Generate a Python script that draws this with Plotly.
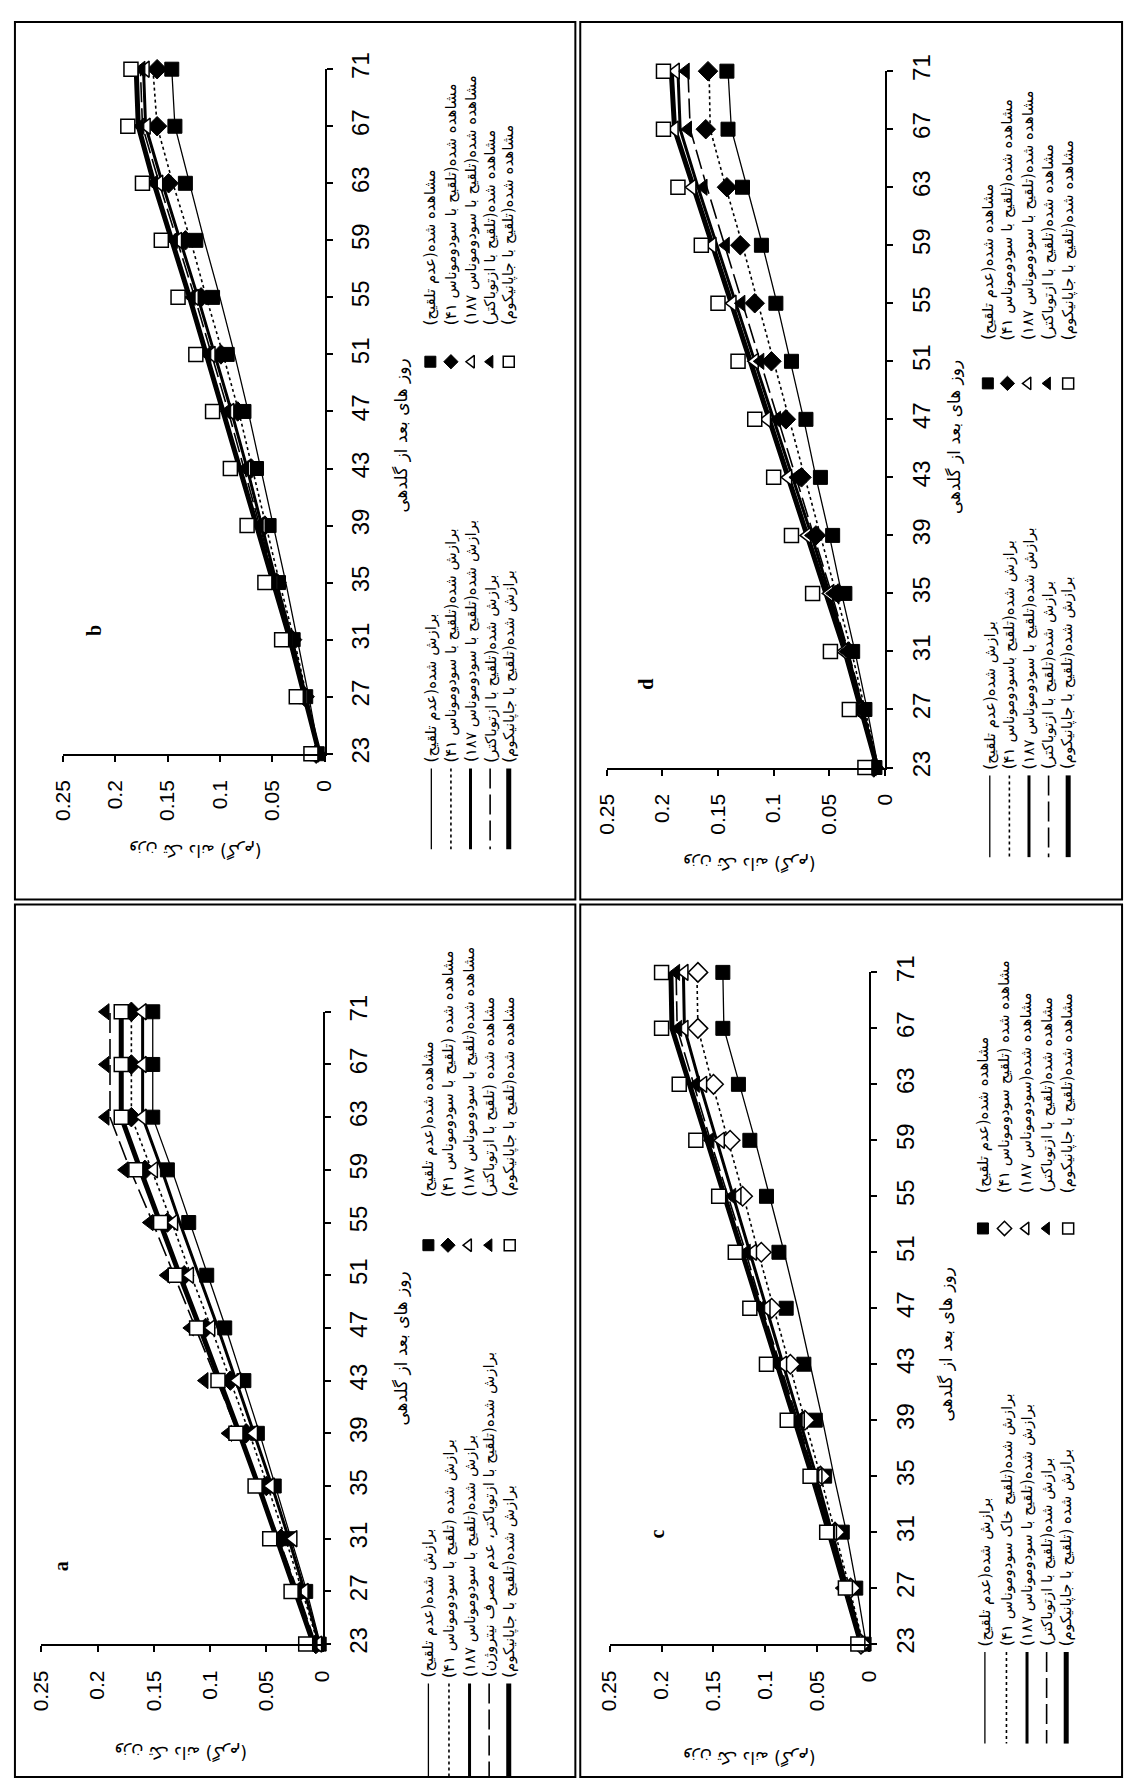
import plotly.graph_objects as go

W, H = 1136, 1791

days = [23, 27, 31, 35, 39, 43, 47, 51, 55, 59, 63, 67, 71]
value_ticks = [0, 0.05, 0.1, 0.15, 0.2, 0.25]
value_tick_labels = ["0", "0.05", "0.1", "0.15", "0.2", "0.25"]

x_title = "روز های بعد از گلدهی"
y_title = "وزن تک دانه (گرم)"

# ---------------- panel a ----------------
a_obs_none = [0.003, 0.015, 0.030, 0.043, 0.058, 0.070, 0.087, 0.103, 0.119, 0.138, 0.151, 0.151, 0.151]
a_obs_ps41 = [0.006, 0.020, 0.037, 0.050, 0.068, 0.082, 0.104, 0.123, 0.138, 0.158, 0.170, 0.170, 0.170]
a_obs_ps187 = [0.004, 0.016, 0.026, 0.046, 0.061, 0.076, 0.099, 0.118, 0.132, 0.150, 0.160, 0.160, 0.160]
a_obs_azoto = [0.008, 0.022, 0.040, 0.055, 0.084, 0.105, 0.118, 0.139, 0.154, 0.176, 0.193, 0.193, 0.193]
a_obs_jap = [0.015, 0.028, 0.047, 0.060, 0.077, 0.093, 0.112, 0.131, 0.144, 0.166, 0.179, 0.179, 0.179]
a_fit_none = [0.002, 0.014, 0.028, 0.042, 0.056, 0.071, 0.086, 0.102, 0.118, 0.134, 0.151, 0.151, 0.151]
a_fit_ps41 = [0.004, 0.018, 0.033, 0.049, 0.065, 0.082, 0.099, 0.117, 0.134, 0.152, 0.170, 0.170, 0.170]
a_fit_ps187 = [0.003, 0.016, 0.030, 0.045, 0.061, 0.077, 0.093, 0.110, 0.127, 0.143, 0.160, 0.160, 0.160]
a_fit_azoto = [0.006, 0.022, 0.039, 0.057, 0.075, 0.094, 0.113, 0.132, 0.151, 0.171, 0.189, 0.189, 0.189]
a_fit_jap = [0.008, 0.024, 0.040, 0.057, 0.074, 0.091, 0.109, 0.127, 0.145, 0.162, 0.179, 0.179, 0.179]
a_obs_labels = ["مشاهده شده(عدم تلقیح)", "مشاهده شده (تلقیح با سودوموناس ۴۱)",
                "مشاهده شده(تلقیح با سودوموناس ۱۸۷)", "مشاهده شده (تلقیح با ازتوباکتر)",
                "مشاهده شده(تلقیح با جاپانیکوم)"]
a_fit_labels = ["برازش شده(عدم تلقیح)", "برازش شده (تلقیح با سودوموناس ۴۱)",
                "برازش شده(تلقیح با سودوموناس ۱۸۷)", "برازش شده(تلقیح با ازتوباکتر، عدم مصرف نیتروژن)",
                "برازش شده(تلقیح با جاپانیکوم)"]

# ---------------- panel b ----------------
b_obs_none = [0.007, 0.018, 0.030, 0.044, 0.053, 0.065, 0.077, 0.093, 0.107, 0.123, 0.133, 0.143, 0.146]
b_obs_ps41 = [0.008, 0.019, 0.031, 0.046, 0.057, 0.070, 0.083, 0.099, 0.118, 0.133, 0.149, 0.160, 0.160]
b_obs_ps187 = [0.009, 0.020, 0.033, 0.048, 0.060, 0.074, 0.090, 0.108, 0.124, 0.140, 0.158, 0.170, 0.171]
b_obs_azoto = [0.009, 0.021, 0.034, 0.049, 0.062, 0.076, 0.093, 0.112, 0.127, 0.144, 0.163, 0.176, 0.175]
b_obs_jap = [0.013, 0.027, 0.041, 0.057, 0.074, 0.090, 0.107, 0.123, 0.140, 0.156, 0.174, 0.188, 0.185]
b_fit_none = [0.005, 0.015, 0.026, 0.037, 0.049, 0.061, 0.073, 0.086, 0.100, 0.115, 0.129, 0.143, 0.146]
b_fit_ps41 = [0.005, 0.017, 0.029, 0.043, 0.056, 0.069, 0.082, 0.097, 0.113, 0.128, 0.145, 0.160, 0.164]
b_fit_ps187 = [0.005, 0.018, 0.031, 0.046, 0.060, 0.074, 0.089, 0.105, 0.121, 0.138, 0.155, 0.171, 0.173]
b_fit_azoto = [0.005, 0.018, 0.032, 0.047, 0.062, 0.077, 0.092, 0.108, 0.124, 0.141, 0.158, 0.174, 0.176]
b_fit_jap = [0.005, 0.019, 0.033, 0.049, 0.065, 0.080, 0.096, 0.112, 0.129, 0.146, 0.163, 0.178, 0.180]
b_obs_labels = ["مشاهده شده(عدم تلقیح)", "مشاهده شده(تلقیح با سودوموناس ۴۱)",
                "مشاهده شده(تلقیح با سودوموناس ۱۸۷)", "مشاهده شده(تلقیح با ازتوباکتر)",
                "مشاهده شده(تلقیح با جاپانیکوم)"]
b_fit_labels = ["برازش شده(عدم تلقیح)", "برازش شده(تلقیح با سودوموناس ۴۱)",
                "برازش شده(تلقیح با سودوموناس ۱۸۷)", "برازش شده(تلقیح با ازتوباکتر)",
                "برازش شده(تلقیح با جاپانیکوم)"]

# ---------------- panel c ----------------
c_obs_none = [0.005, 0.013, 0.026, 0.043, 0.052, 0.063, 0.080, 0.087, 0.099, 0.115, 0.126, 0.141, 0.141]
c_obs_ps41 = [0.008, 0.018, 0.033, 0.047, 0.062, 0.076, 0.094, 0.104, 0.122, 0.134, 0.150, 0.165, 0.165]
c_obs_ps187 = [0.009, 0.022, 0.035, 0.049, 0.066, 0.083, 0.099, 0.112, 0.127, 0.143, 0.160, 0.178, 0.178]
c_obs_azoto = [0.010, 0.026, 0.037, 0.052, 0.068, 0.089, 0.104, 0.118, 0.132, 0.153, 0.167, 0.184, 0.186]
c_obs_jap = [0.011, 0.023, 0.041, 0.057, 0.079, 0.099, 0.115, 0.129, 0.145, 0.167, 0.183, 0.200, 0.200]
c_fit_none = [0.003, 0.012, 0.022, 0.034, 0.045, 0.057, 0.069, 0.082, 0.096, 0.110, 0.125, 0.140, 0.141]
c_fit_ps41 = [0.006, 0.019, 0.033, 0.047, 0.062, 0.077, 0.092, 0.107, 0.121, 0.136, 0.151, 0.165, 0.166]
c_fit_ps187 = [0.007, 0.021, 0.036, 0.051, 0.067, 0.083, 0.099, 0.115, 0.131, 0.147, 0.163, 0.178, 0.179]
c_fit_azoto = [0.007, 0.022, 0.037, 0.053, 0.069, 0.086, 0.103, 0.119, 0.136, 0.153, 0.169, 0.185, 0.186]
c_fit_jap = [0.008, 0.023, 0.039, 0.055, 0.072, 0.089, 0.106, 0.123, 0.140, 0.157, 0.174, 0.190, 0.191]
c_obs_labels = ["مشاهده شده(عدم تلقیح)", "مشاهده شده (تلقیح سودوموناس ۴۱)",
                "مشاهده شده(سودوموناس ۱۸۷)", "مشاهده شده(تلقیح با ازتوباکتر)",
                "مشاهده شده(تلقیح با جاپانیکوم)"]
c_fit_labels = ["برازش شده(عدم تلقیح)", "برازش شده(تلقیح خاک سودوموناس ۴۱)",
                "برازش شده(تلقیح با سودوموناس ۱۸۷)", "برازش شده(تلقیح با ازتوباکتر)",
                "برازش شده (تلقیح با جاپانیکوم)"]

# ---------------- panel d ----------------
d_obs_none = [0.009, 0.018, 0.029, 0.036, 0.047, 0.058, 0.071, 0.084, 0.098, 0.111, 0.128, 0.141, 0.142]
d_obs_ps41 = [0.010, 0.021, 0.033, 0.042, 0.062, 0.075, 0.089, 0.102, 0.117, 0.130, 0.142, 0.161, 0.159]
d_obs_ps187 = [0.012, 0.024, 0.037, 0.050, 0.070, 0.087, 0.106, 0.117, 0.137, 0.155, 0.173, 0.189, 0.188]
d_obs_azoto = [0.011, 0.023, 0.035, 0.047, 0.066, 0.080, 0.097, 0.112, 0.129, 0.143, 0.163, 0.177, 0.179]
d_obs_jap = [0.018, 0.032, 0.049, 0.065, 0.084, 0.100, 0.117, 0.132, 0.150, 0.165, 0.186, 0.199, 0.199]
d_fit_none = [0.006, 0.016, 0.027, 0.039, 0.050, 0.062, 0.073, 0.085, 0.097, 0.110, 0.124, 0.138, 0.141]
d_fit_ps41 = [0.006, 0.018, 0.030, 0.044, 0.058, 0.072, 0.086, 0.100, 0.114, 0.128, 0.143, 0.157, 0.158]
d_fit_ps187 = [0.007, 0.020, 0.034, 0.050, 0.066, 0.083, 0.100, 0.117, 0.134, 0.151, 0.168, 0.184, 0.186]
d_fit_azoto = [0.007, 0.019, 0.033, 0.048, 0.064, 0.080, 0.096, 0.112, 0.128, 0.144, 0.160, 0.175, 0.177]
d_fit_jap = [0.007, 0.021, 0.036, 0.053, 0.070, 0.087, 0.104, 0.121, 0.138, 0.155, 0.172, 0.189, 0.192]
d_obs_labels = ["مشاهده شده(عدم تلقیح)", "مشاهده شده(تلقیح با سودوموناس ۴۱)",
                "مشاهده شده(تلقیح با سودوموناس ۱۸۷)", "مشاهده شده(تلقیح با ازتوباکتر)",
                "مشاهده شده(تلقیح با جاپانیکوم)"]
d_fit_labels = ["برازش شده(عدم تلقیح)", "برازش شده(تلقیح باسودوموناس ۴۱)",
                "برازش شده(تلقیح با سودوموناس ۱۸۷)", "برازش شده(تلقیح با ازتوباکتر)",
                "برازش شده(تلقیح با جاپانیکوم)"]

# ---------------- styles ----------------
FIT_STYLES = [
    dict(width=1.3, dash="solid"),
    dict(width=1.6, dash="3px,3px"),
    dict(width=3.0, dash="solid"),
    dict(width=1.6, dash="20px,6px"),
    dict(width=5.0, dash="solid"),
]
SQ_F = dict(symbol="square", color="black", line=dict(color="black", width=1))
DI_F = dict(symbol="diamond", color="black", line=dict(color="black", width=1))
DI_O = dict(symbol="diamond", color="white", line=dict(color="black", width=1.5))
TR_O = dict(symbol="triangle-left", color="white", line=dict(color="black", width=1.5))
TR_F = dict(symbol="triangle-left", color="black", line=dict(color="black", width=1))
SQ_O = dict(symbol="square", color="white", line=dict(color="black", width=1.5))

FONT = "Arial, 'Liberation Sans', 'DejaVu Sans', sans-serif"
FA_FONT = "'DejaVu Sans', sans-serif"

panels = [
    dict(letter="a",
         obs=[a_obs_none, a_obs_ps41, a_obs_ps187, a_obs_azoto, a_obs_jap],
         fit=[a_fit_none, a_fit_ps41, a_fit_ps187, a_fit_azoto, a_fit_jap],
         obs_labels=a_obs_labels, fit_labels=a_fit_labels,
         sym=[SQ_F, DI_F, TR_O, TR_F, SQ_O],
         x0=30, x1=317, ytop=1010, ybot=1652,
         letter_xy=(50, 1573), xt_xy=(397, 1352), yt_xy=(173, 1762),
         leg_line_x=[425, 446, 467, 487, 507], leg_line_y=(1692, 1786),
         leg_mk_x=[425, 445, 466, 487, 508], leg_mk_y=1247, leg_mk_txt=1200),
    dict(letter="b",
         obs=[b_obs_none, b_obs_ps41, b_obs_ps187, b_obs_azoto, b_obs_jap],
         fit=[b_fit_none, b_fit_ps41, b_fit_ps187, b_fit_azoto, b_fit_jap],
         obs_labels=b_obs_labels, fit_labels=b_fit_labels,
         sym=[SQ_F, DI_F, TR_O, TR_F, SQ_O],
         x0=52, x1=319, ytop=53, ybot=748,
         letter_xy=(83, 623), xt_xy=(397, 425), yt_xy=(187, 846),
         leg_line_x=[428, 448, 468, 488, 507], leg_line_y=(763, 845),
         leg_mk_x=[427, 448, 469, 488, 507], leg_mk_y=350, leg_mk_txt=315),
    dict(letter="c",
         obs=[c_obs_none, c_obs_ps41, c_obs_ps187, c_obs_azoto, c_obs_jap],
         fit=[c_fit_none, c_fit_ps41, c_fit_ps187, c_fit_azoto, c_fit_jap],
         obs_labels=c_obs_labels, fit_labels=c_fit_labels,
         sym=[SQ_F, DI_O, TR_O, TR_F, SQ_O],
         x0=610, x1=875, ytop=970, ybot=1652,
         letter_xy=(658, 1540), xt_xy=(953, 1348), yt_xy=(753, 1767),
         leg_line_x=[993, 1015, 1036, 1056, 1076], leg_line_y=(1660, 1753),
         leg_mk_x=[991, 1013, 1035, 1056, 1078], leg_mk_y=1230, leg_mk_txt=1196),
    dict(letter="d",
         obs=[d_obs_none, d_obs_ps41, d_obs_ps187, d_obs_azoto, d_obs_jap],
         fit=[d_fit_none, d_fit_ps41, d_fit_ps187, d_fit_azoto, d_fit_jap],
         obs_labels=d_obs_labels, fit_labels=d_fit_labels,
         sym=[SQ_F, DI_F, TR_O, TR_F, SQ_O],
         x0=607, x1=891, ytop=55, ybot=762,
         letter_xy=(647, 677), xt_xy=(961, 427), yt_xy=(753, 860),
         leg_line_x=[998, 1018, 1038, 1058, 1078], leg_line_y=(770, 853),
         leg_mk_x=[996, 1016, 1037, 1057, 1078], leg_mk_y=372, leg_mk_txt=330),
]

fig = go.Figure()
layout = dict(
    width=W, height=H,
    margin=dict(l=0, r=0, t=0, b=0, pad=0),
    paper_bgcolor="white", plot_bgcolor="rgba(0,0,0,0)",
    showlegend=False,
    font=dict(family=FONT, color="black"),
)
annotations = []
shapes = []

OV = 5  # overlay pixel axes index

for i, p in enumerate(panels, start=1):
    xa, ya = f"x{i}", f"y{i}"
    for k in range(5):
        st = FIT_STYLES[k]
        fig.add_trace(go.Scatter(
            x=p["fit"][k], y=days, mode="lines", xaxis=xa, yaxis=ya,
            line=dict(color="black", width=st["width"], dash=st["dash"]),
            cliponaxis=False, hoverinfo="skip"))
    for k in range(5):
        s = p["sym"][k]
        size = 14 if s["symbol"] == "square" else (15 if s["symbol"] == "diamond" else 14)
        fig.add_trace(go.Scatter(
            x=p["obs"][k], y=days, mode="markers", xaxis=xa, yaxis=ya,
            marker=dict(symbol=s["symbol"], size=size, color=s["color"], line=s["line"]),
            cliponaxis=False, hoverinfo="skip"))
    layout[f"xaxis{i}"] = dict(
        domain=[p["x0"] / W, p["x1"] / W], anchor=ya, range=[0.25, 0],
        showline=True, linecolor="black", linewidth=2, mirror=False,
        ticks="outside", ticklen=6, tickwidth=1.5, tickcolor="black",
        tickvals=value_ticks, ticktext=value_tick_labels, tickangle=-90,
        tickfont=dict(size=21, family=FONT), ticklabelstandoff=10,
        showgrid=False, zeroline=False, fixedrange=True)
    layout[f"yaxis{i}"] = dict(
        domain=[1 - p["ybot"] / H, 1 - p["ytop"] / H], anchor=xa, side="right",
        range=[23, 71],
        showline=True, linecolor="black", linewidth=2,
        ticks="outside", ticklen=6, tickwidth=1.5, tickcolor="black",
        tickvals=days, tickangle=-90, tickfont=dict(size=24, family=FONT),
        ticklabelstandoff=8,
        showgrid=False, zeroline=False, fixedrange=True)

    ov_x, ov_y = f"x{OV}", f"y{OV}"
    annotations.append(dict(x=p["letter_xy"][0], y=p["letter_xy"][1], xref=ov_x, yref=ov_y,
                            text=f"<b>{p['letter']}</b>", showarrow=False, textangle=-90,
                            font=dict(size=20, family="'Liberation Serif', 'Times New Roman', serif")))
    annotations.append(dict(x=p["xt_xy"][0], y=p["xt_xy"][1], xref=ov_x, yref=ov_y,
                            text=x_title, showarrow=False, textangle=-90,
                            font=dict(size=17, family=FA_FONT)))
    annotations.append(dict(x=p["yt_xy"][0], y=p["yt_xy"][1], xref=ov_x, yref=ov_y,
                            text=y_title, showarrow=False, textangle=180,
                            font=dict(size=17, family=FA_FONT)))
    y_a, y_b = p["leg_line_y"]
    for k in range(5):
        st = FIT_STYLES[k]
        lx = p["leg_line_x"][k]
        fig.add_trace(go.Scatter(
            x=[lx, lx], y=[y_a, y_b], mode="lines", xaxis=ov_x, yaxis=ov_y,
            line=dict(color="black", width=st["width"], dash=st["dash"]),
            cliponaxis=False, hoverinfo="skip"))
        annotations.append(dict(x=lx, y=y_a - 4, xref=ov_x, yref=ov_y, text=p["fit_labels"][k],
                                showarrow=False, textangle=-90, xanchor="center", yanchor="bottom",
                                font=dict(size=15, family=FA_FONT)))
    for k in range(5):
        s = p["sym"][k]
        mx = p["leg_mk_x"][k]
        fig.add_trace(go.Scatter(
            x=[mx], y=[p["leg_mk_y"]], mode="markers", xaxis=ov_x, yaxis=ov_y,
            marker=dict(symbol=s["symbol"], size=11, color=s["color"], line=s["line"]),
            cliponaxis=False, hoverinfo="skip"))
        annotations.append(dict(x=mx, y=p["leg_mk_txt"], xref=ov_x, yref=ov_y, text=p["obs_labels"][k],
                                showarrow=False, textangle=-90, xanchor="center", yanchor="bottom",
                                font=dict(size=15, family=FA_FONT)))

for (x0, y0, x1, y1) in [(3, 5, 575, 896), (580, 5, 1133, 896), (3, 901, 575, 1787), (580, 901, 1133, 1787)]:
    shapes.append(dict(type="rect", x0=x0, y0=y0, x1=x1, y1=y1, xref=f"x{OV}", yref=f"y{OV}",
                       line=dict(color="black", width=2), fillcolor="rgba(0,0,0,0)", layer="below"))

layout[f"xaxis{OV}"] = dict(domain=[0, 1], range=[0, W], anchor=f"y{OV}", visible=False, fixedrange=True)
layout[f"yaxis{OV}"] = dict(domain=[0, 1], range=[H, 0], anchor=f"x{OV}", visible=False, fixedrange=True)
layout["annotations"] = annotations
layout["shapes"] = shapes

fig.update_layout(**layout)
fig.write_html("out.html")
